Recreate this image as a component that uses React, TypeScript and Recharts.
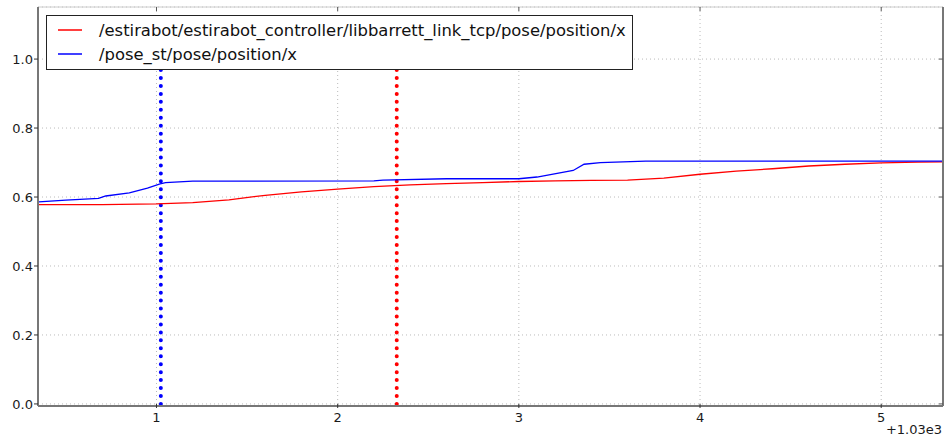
import { LineChart, Line, XAxis, YAxis, CartesianGrid, Legend } from "recharts";

// x values are offsets from 1030 (axis shows "+1.03e3")
const tcpX = [0.35, 0.7, 1.0, 1.2, 1.4, 1.6, 1.8, 2.0, 2.2, 2.4, 2.6, 2.8, 3.0, 3.2, 3.4, 3.6, 3.8, 4.0, 4.2, 4.4, 4.6, 4.8, 5.0, 5.2, 5.35];
const tcpY = [0.578, 0.578, 0.58, 0.584, 0.592, 0.605, 0.615, 0.623, 0.63, 0.635, 0.639, 0.642, 0.645, 0.647, 0.648, 0.649, 0.655, 0.666, 0.675, 0.682, 0.69, 0.695, 0.699, 0.701, 0.702];

const poseX = [0.35, 0.5, 0.68, 0.72, 0.85, 0.95, 1.02, 1.05, 1.2, 2.2, 2.25, 2.6, 3.0, 3.1, 3.3, 3.36, 3.45, 3.7, 5.35];
const poseY = [0.586, 0.591, 0.596, 0.603, 0.612, 0.626, 0.638, 0.642, 0.646, 0.647, 0.649, 0.653, 0.653, 0.658, 0.677, 0.695, 0.7, 0.704, 0.704];

const markerBlueX = [1.024, 1.024];
const markerRedX = [2.326, 2.326];
const markerY = [0, 0.972];

const xTicks = [1, 2, 3, 4, 5];
const yTicks = [0, 0.2, 0.4, 0.6, 0.8, 1.0];

const seriesNames = [
  "/estirabot/estirabot_controller/libbarrett_link_tcp/pose/position/x",
  "/pose_st/pose/position/x",
];
const seriesColors = ["#ff0000", "#0000ff"];

const zip = (xs: number[], ys: number[]) => xs.map((x, i) => ({ x, y: ys[i] }));

const tcpData = zip(tcpX, tcpY);
const poseData = zip(poseX, poseY);
const blueMarker = zip(markerBlueX, markerY);
const redMarker = zip(markerRedX, markerY);

const FONT = "'DejaVu Sans', sans-serif";

function BottomTick(props: any) {
  const { x, y, payload } = props;
  return (
    <g>
      <line x1={x} x2={x} y1={y - 4} y2={y} stroke="#333" strokeWidth={1} />
      <text x={x} y={y + 9} textAnchor="middle" dominantBaseline="central" fontSize={13} fontFamily={FONT} fill="#1a1a1a">
        {payload.value}
      </text>
    </g>
  );
}

function LegendBox() {
  return (
    <div
      style={{
        width: 587,
        height: 55,
        boxSizing: "border-box",
        border: "1.5px solid #222",
        background: "#fff",
        fontFamily: FONT,
        fontSize: 16.4,
        color: "#111",
        position: "relative",
      }}
    >
      {seriesNames.map((name, i) => (
        <div key={name} style={{ position: "absolute", left: 0, top: i === 0 ? 3 : 27, height: 22, display: "flex", alignItems: "center", whiteSpace: "nowrap" }}>
          <svg width={50} height={22}>
            <line x1={11} x2={35} y1={11} y2={11} stroke={seriesColors[i]} strokeWidth={1.5} />
          </svg>
          <span style={{ marginLeft: 2 }}>{name}</span>
        </div>
      ))}
    </div>
  );
}

export default function App() {
  return (
    <div style={{ position: "absolute", left: 0, top: 0, width: 945, height: 438, background: "#fff" }}>
      <LineChart width={945} height={438} margin={{ top: 7, right: 2, bottom: 0, left: 0 }}>
        <CartesianGrid stroke="#bbb" strokeDasharray="1 3" />
        <XAxis
          dataKey="x"
          type="number"
          domain={[0.346, 5.341]}
          ticks={xTicks}
          allowDataOverflow
          height={32}
          axisLine={{ stroke: "#777", strokeWidth: 2 }}
          tickLine={false}
          tickSize={0}
          tick={<BottomTick />}
          label={{ value: "+1.03e3", position: "insideBottomRight", offset: 4, dx: 3, fontSize: 13, fontFamily: FONT, fill: "#1a1a1a" }}
        />
        <XAxis
          xAxisId="top"
          orientation="top"
          dataKey="x"
          type="number"
          domain={[0.346, 5.341]}
          ticks={xTicks}
          allowDataOverflow
          height={1}
          mirror
          tickSize={4}
          axisLine={{ stroke: "#ccc" }}
          tickLine={{ stroke: "#555" }}
          tick={() => <g />}
        />
        <YAxis
          type="number"
          domain={[-0.006, 1.151]}
          ticks={yTicks}
          allowDataOverflow
          width={38}
          tickSize={4}
          tickMargin={1}
          tickFormatter={(v: number) => v.toFixed(1)}
          axisLine={{ stroke: "#777", strokeWidth: 2 }}
          tickLine={{ stroke: "#333" }}
          tick={{ fontSize: 13, fontFamily: FONT, fill: "#1a1a1a" }}
        />
        <YAxis
          yAxisId="right"
          orientation="right"
          type="number"
          domain={[-0.006, 1.151]}
          ticks={yTicks}
          allowDataOverflow
          width={1}
          mirror
          tickSize={4}
          axisLine={{ stroke: "#777", strokeWidth: 2 }}
          tickLine={{ stroke: "#555" }}
          tick={() => <g />}
        />
        <Legend
          verticalAlign="middle"
          align="center"
          layout="horizontal"
          content={() => <LegendBox />}
          wrapperStyle={{ position: "absolute", left: 46, top: 15, width: 587, height: 55 }}
        />
        <Line data={blueMarker} dataKey="y" stroke="#0000ff" strokeWidth={4} strokeDasharray="0 7.95" strokeLinecap="round" dot={false} isAnimationActive={false} legendType="none" />
        <Line data={redMarker} dataKey="y" stroke="#ff0000" strokeWidth={4} strokeDasharray="0 7.95" strokeLinecap="round" dot={false} isAnimationActive={false} legendType="none" />
        <Line data={tcpData} dataKey="y" name={seriesNames[0]} stroke={seriesColors[0]} strokeWidth={1.3} dot={false} isAnimationActive={false} />
        <Line data={poseData} dataKey="y" name={seriesNames[1]} stroke={seriesColors[1]} strokeWidth={1.3} dot={false} isAnimationActive={false} />
      </LineChart>
    </div>
  );
}
